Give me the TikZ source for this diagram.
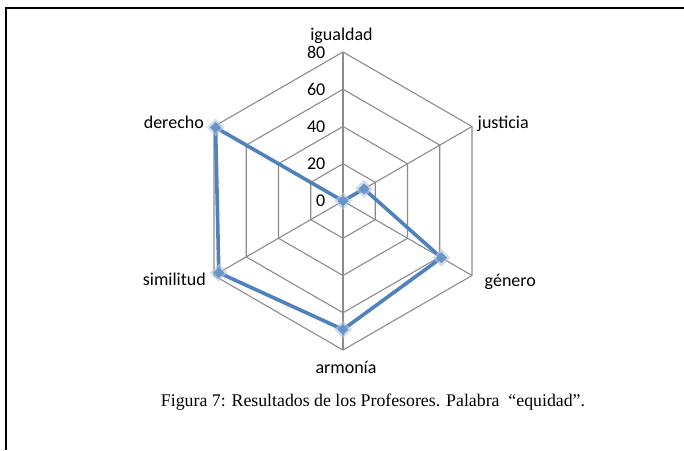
\documentclass[tikz,border=0pt]{standalone}
\usepackage{fontspec}
\setmainfont{Liberation Serif}
\newfontfamily\chartfont{Carlito}
\usetikzlibrary{calc,shapes.geometric}
\definecolor{gridgray}{RGB}{140,140,140}
\definecolor{serieblue}{RGB}{79,129,189}
\begin{document}
\begin{tikzpicture}[x=1pt,y=1pt,
  gridline/.style={draw=gridgray,line width=1.1pt},
  axlabel/.style={font=\chartfont\fontsize{18}{20}\selectfont,inner sep=0pt},
  numlabel/.style={font=\chartfont\fontsize{18}{20}\selectfont,anchor=east,inner sep=0pt},
  serie/.style={draw=serieblue,line width=3.6pt,line join=round},
  marker/.style={diamond,fill=serieblue!85!white,minimum size=11pt,inner sep=0pt},
  glow/.style={diamond,fill=serieblue!45!white,opacity=0.6,minimum size=18pt,inner sep=0pt}]
\useasboundingbox (0,0) rectangle (684,450);
\fill[white] (0,0) rectangle (684,450);
\draw[line width=1.8pt] (6,0) -- (6,442) -- (684,442);
\coordinate (C) at (343,249);
\def\R{149}
% grid hexagons
\foreach \k in {1,2,3,4}{
  \draw[gridline] ($(C)+(90:\k*\R/4)$) -- ($(C)+(30:\k*\R/4)$) -- ($(C)+(-30:\k*\R/4)$) -- ($(C)+(-90:\k*\R/4)$) -- ($(C)+(-150:\k*\R/4)$) -- ($(C)+(150:\k*\R/4)$) -- cycle;
}
\foreach \a/\n in {90/vA,30/vB,-30/vC,-90/vD,-150/vE,150/vF}{
  \coordinate (\n) at ($(C)+(\a:\R)$);
  \draw[gridline] (C) -- (\n);
}
% axis numbers
\foreach \k/\t in {0/0,1/20,2/40,3/60,4/80}{
  \node[numlabel] (n\k) at (325.5,{249+\k*\R/4}) {\t};
}
% category labels
\node[axlabel,anchor=base] (lA) at (341.5,409.3) {igualdad};
\node[axlabel,anchor=base west] (lB) at (477.5,321.7) {justicia};
\node[axlabel,anchor=base west] (lC) at (484.5,163.5) {género};
\node[axlabel,anchor=base] (lD) at (346,76.5) {armonía};
\node[axlabel,anchor=base east] (lE) at (206,165) {similitud};
\node[axlabel,anchor=base east] (lF) at (204,321.7) {derecho};
% data
\coordinate (pA) at (C);
\coordinate (pB) at ($(C)+(30:13*\R/80)$);
\coordinate (pC) at ($(C)+(-30:61*\R/80)$);
\coordinate (pD) at ($(C)+(-90:69*\R/80)$);
\coordinate (pE) at ($(C)+(-150:77*\R/80)$);
\coordinate (pF) at ($(C)+(150:79*\R/80)$);
\draw[serie] (pA) -- (pB) -- (pC) -- (pD) -- (pE) -- (pF) -- cycle;
\foreach \p in {pA,pB,pC,pD,pE,pF}{
  \node[glow] at (\p) {};
  \node[marker] (m\p) at (\p) {};
}
% caption
\node[font=\fontsize{17.8}{20}\selectfont,anchor=base,inner sep=0pt] (cap) at (373,44) {Figura 7: Resultados de los Profesores. Palabra \ “equidad”.};
\end{tikzpicture}
\end{document}
